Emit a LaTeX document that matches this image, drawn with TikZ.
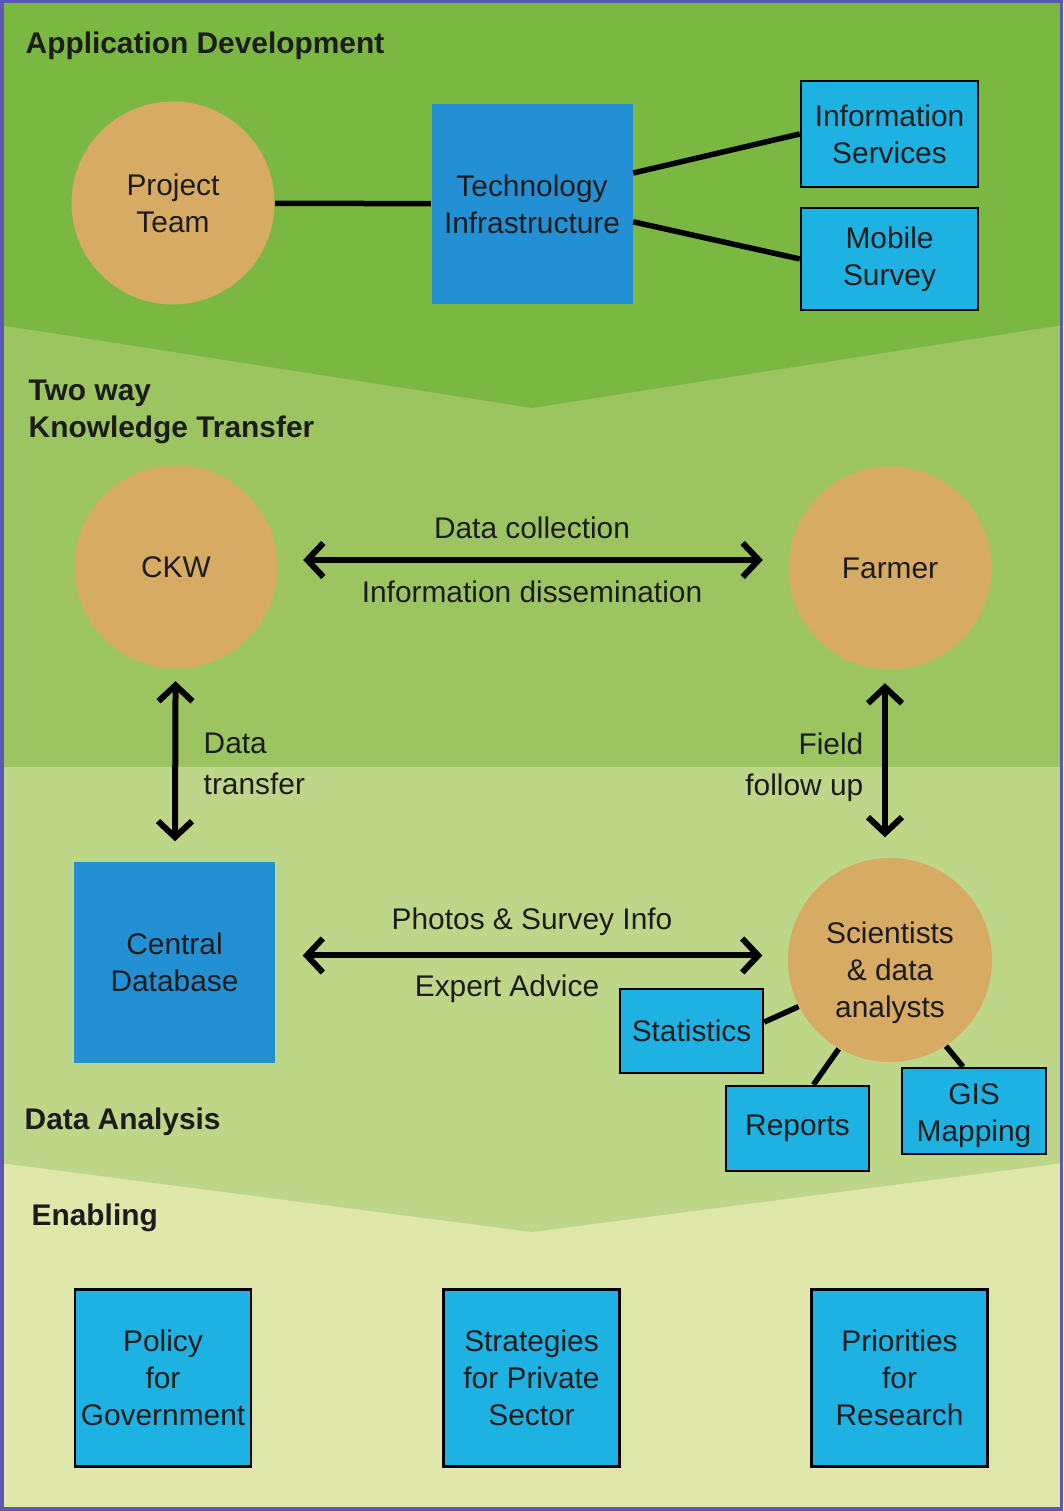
\documentclass[tikz,border=0pt]{standalone}
\usepackage{fontspec}
\setmainfont{Liberation Sans}
\usepackage{xcolor}
\definecolor{ckgreenA}{HTML}{7BB842}
\definecolor{ckgreenB}{HTML}{9CC562}
\definecolor{ckgreenC}{HTML}{BDD688}
\definecolor{ckgreenD}{HTML}{E0E7AB}
\definecolor{ckorange}{HTML}{D7AB64}
\definecolor{ckblue}{HTML}{2290D2}
\definecolor{ckcyan}{HTML}{1DB2E1}
\definecolor{ckframe}{HTML}{5B57B3}
\definecolor{cktext}{HTML}{1C1C1C}
\usetikzlibrary{arrows.meta,positioning,calc}
\tikzset{
  txt/.style={font=\fontsize{8.5}{10.5}\selectfont, text=cktext, align=center, inner sep=0pt},
  heading/.style={font=\fontsize{8.5}{10.5}\selectfont\bfseries, text=cktext, align=left, inner sep=0pt, anchor=west},
  actor/.style={circle, fill=ckorange, minimum size=2.03cm, txt},
  hub/.style={fill=ckblue, txt},
  outbox/.style={draw=black, line width=0.7pt, fill=ckcyan, txt},
  link/.style={line width=0.055cm, black},
  twoarrow/.style={line width=0.06cm, black, {Straight Barb[length=0.16cm,width=0.34cm]}-{Straight Barb[length=0.16cm,width=0.34cm]}}
}
\newcommand{\lowered}[2]{\raisebox{-#1}[\height][\depth]{\begin{tabular}{@{}c@{}}#2\end{tabular}}}

\begin{document}
\begin{tikzpicture}
  %% Bands
  \fill[ckgreenD] (0,0) rectangle (10.63,15.11);
  \fill[ckgreenC] (0,7.44) -- (10.63,7.44) -- (10.63,3.48) -- (5.32,2.79) -- (0,3.48) -- cycle;
  \fill[ckgreenB] (0,7.44) rectangle (10.63,15.11);
  \fill[ckgreenA] (0,15.11) -- (10.63,15.11) -- (10.63,11.86) -- (5.32,11.03) -- (0,11.86) -- cycle;
  \draw[ckframe, line width=0.035cm] (0.0175,0.0175) rectangle (10.6125,15.0925);

  %% Application Development
  \node[heading] (hdev) at (0.25,14.65) {Application Development};
  \node[actor] (team) at (1.73,13.08) {Project\\Team};
  \node[hub, minimum width=2.01cm, minimum height=2.0cm] (tech) at (5.32,13.07) {Technology\\Infrastructure};
  \node[outbox, minimum width=1.77cm, minimum height=1.06cm] (info) at (8.895,13.77) {Information\\Services};
  \node[outbox, minimum width=1.77cm, minimum height=1.02cm] (mobile) at (8.895,12.52) {Mobile\\Survey};
  \draw[link] (team) -- (tech);
  \draw[link] (tech.17) -- (info.west);
  \draw[link] (tech.-10) -- (mobile.west);

  %% Two way Knowledge Transfer
  \node[heading] (hktr) at (0.28,10.99) {Two way\\Knowledge Transfer};
  \node[actor] (ckw) at (1.76,9.44) {CKW};
  \node[actor] (farmer) at (8.90,9.43) {Farmer};
  \draw[twoarrow, shorten <=0.25cm, shorten >=0.25cm] ([yshift=0.07cm]ckw.east) -- ([yshift=0.07cm]ckw.east -| farmer.west);
  \node[txt] (lcoll) at (5.32,9.83) {Data collection};
  \node[txt] (ldiss) at (5.32,9.19) {Information dissemination};

  %% Data Analysis
  \node[hub, minimum width=2.01cm, minimum height=2.01cm] (db) at (1.745,5.485) {Central\\Database};
  \node[actor, minimum size=2.04cm] (sci) at (8.90,5.51) {\lowered{0.13cm}{Scientists\\\& data\\analysts}};
  \draw[twoarrow, shorten <=0.12cm, shorten >=0.2cm] (ckw) -- (db);
  \draw[twoarrow, shorten <=0.13cm, shorten >=0.2cm] ([xshift=-0.05cm]farmer.south) -- ([xshift=-0.05cm]farmer.south |- sci.north);
  \node[txt, anchor=west, align=left] (ltrans) at (2.03,7.47) {Data\\[0.04cm]transfer};
  \node[txt, anchor=east, align=right] (lfield) at (8.64,7.44) {Field\\[0.04cm]follow up};
  \draw[twoarrow, shorten <=0.27cm, shorten >=0.25cm] ([yshift=0.07cm]db.east) -- ([yshift=0.07cm]db.east -| sci.west);
  \node[txt] (lphoto) at (5.32,5.89) {Photos \& Survey Info};
  \node[txt] (ladv) at (5.07,5.22) {Expert Advice};
  \node[outbox, minimum width=1.43cm, minimum height=0.84cm] (stats) at (6.915,4.80) {Statistics};
  \node[outbox, minimum width=1.43cm, minimum height=0.85cm] (reports) at (7.975,3.825) {Reports};
  \node[outbox, minimum width=1.44cm, minimum height=0.86cm] (gis) at (9.74,4.00) {\lowered{0.05cm}{GIS\\Mapping}};
  \draw[link] (stats.7) -- (sci.207);
  \draw[link] (reports.70) -- (sci.240);
  \draw[link] (gis.104) -- (sci.-57);
  \node[heading] (hana) at (0.24,3.89) {Data Analysis};

  %% Enabling
  \node[heading] (henab) at (0.31,2.93) {Enabling};
  \node[outbox, minimum width=1.76cm, minimum height=1.77cm] (policy) at (1.63,1.33) {Policy\\for\\Government};
  \node[outbox, minimum width=1.76cm, minimum height=1.77cm] (strat) at (5.315,1.33) {Strategies\\for Private\\Sector};
  \node[outbox, minimum width=1.76cm, minimum height=1.77cm] (prior) at (8.995,1.33) {Priorities\\for\\Research};
\end{tikzpicture}
\end{document}
